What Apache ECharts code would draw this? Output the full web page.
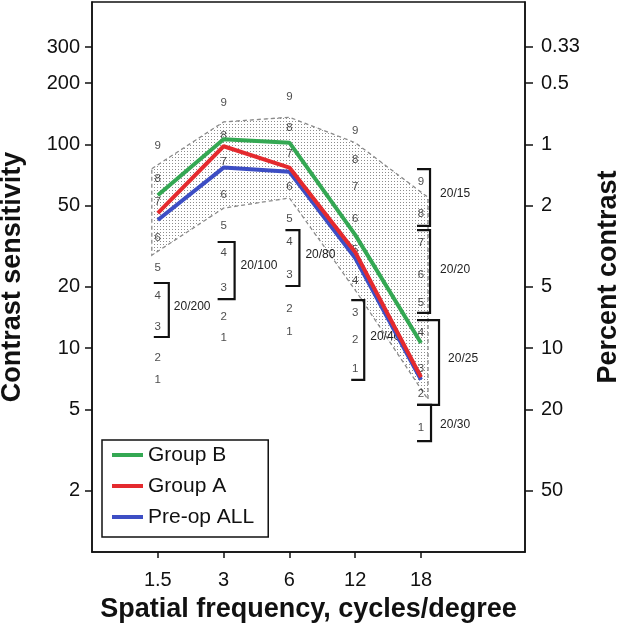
<!DOCTYPE html>
<html><head><meta charset="utf-8">
<script src="https://cdn.jsdelivr.net/npm/echarts@6/dist/echarts.min.js"></script>
<style>html,body{margin:0;padding:0;background:#fff}#c{width:617px;height:626px}</style>
</head><body><div id="c"></div>
<script>
// ---------- data ----------
const freqLabels = ['1.5', '3', '6', '12', '18'];
const groupB   = [56.3, 106, 102, 36, 10.6];
const groupA   = [46, 98, 77, 29.6, 7.2];
const preopAll = [42.6, 77, 73.5, 27.7, 7.0];
const normUpper = [76, 129, 136, 102, 55];
const normLower = [28.6, 48.7, 54.6, 19.3, 5.6];
const levels1_5 = [7.0, 9.0, 12.7, 18.0, 24.7, 35, 52, 68, 98];
const levels3   = [11.2, 14.2, 19.7, 29.3, 40, 56.5, 82, 110, 160];
const levels6   = [12.1, 15.6, 22.9, 33.2, 43, 61.7, 90, 120, 171];
const levels12  = [7.9, 11.0, 15, 21.4, 30.3, 43, 61.7, 84, 116];
const levels18  = [4.06, 5.96, 7.9, 11.9, 16.7, 22.9, 32.8, 45.5, 65.4];
const leftTicks = [2, 5, 10, 20, 50, 100, 200, 300];
const rightTicks = [0.33, 0.5, 1, 2, 5, 10, 20, 50];
const bracketLabels = ['20/200', '20/100', '20/80', '20/40', '20/15', '20/20', '20/25', '20/30'];
const bracketFreq   = [1, 2, 3, 4, 5, 5, 5, 5];
const bracketTop    = [20.9, 33.2, 38, 17.2, 75.7, 38, 13.75, 5.27];
const bracketBottom = [11.35, 17.4, 20.2, 7.0, 39.8, 14.9, 5.27, 3.5];

// ---------- styles ----------
const FONT = 'Liberation Sans, Arial, sans-serif';
const Y_MIN = 1, Y_MAX = 500, X_MAX = 6.58;
const BR_VX  = [11, 11, 10, 9, 9, 9, 18, 10];
const BR_ARM = [-4, -6, -4, -4, -4, -4, -4, -4];
const BR_GAP = [5, 6, 6, 6, 10, 10, 9, 9];
const BR_DY  = [-3, -5, -3, -3, -4, -2, -4, 2];
const BAND_PAD = [-6, 0, 0, 0, 7];   // px

const L = Math.log10;
const allLevels = [levels1_5, levels3, levels6, levels12, levels18];

function dots() {
  const c = document.createElement('canvas');
  c.width = 3; c.height = 3;
  const g = c.getContext('2d');
  g.fillStyle = '#8c8c8c';
  g.fillRect(1, 1, 1, 1);
  return c;
}
const DOTS = dots();

const digitData = [];
allLevels.forEach((lv, i) => lv.forEach((v, j) => digitData.push([i + 1, L(v), j + 1])));

const lineSeries = (name, arr, color, z) => ({
  name, type: 'line', data: arr.map((v, i) => [i + 1, L(v)]),
  symbol: 'none', lineStyle: { color, width: 4 }, itemStyle: { color }, z, silent: true
});

const chart = echarts.init(document.getElementById('c'), null, { renderer: 'canvas' });
chart.setOption({
  animation: false,
  backgroundColor: '#fff',
  grid: { left: 92, right: 92, top: 2, bottom: 74, show: true, borderColor: '#111', borderWidth: 1.5, outerBoundsMode: 'none', containLabel: false },
  legend: {
    data: ['Group B', 'Group A', 'Pre-op ALL'], orient: 'vertical', left: 102, top: 440,
    icon: 'rect', itemWidth: 31, itemHeight: 4, itemGap: 9, itemTextGap: 9,
    padding: [4, 14, 9, 10], borderColor: '#111', borderWidth: 1.5, backgroundColor: '#fff',
    textStyle: { fontSize: 21, color: '#111', fontFamily: FONT, lineHeight: 22 }
  },
  xAxis: {
    type: 'value', min: 0, max: X_MAX,
    axisLine: { show: true, onZero: false, lineStyle: { color: '#111', width: 1.5 } },
    axisTick: { show: true, customValues: [1, 2, 3, 4, 5], length: 6, lineStyle: { color: '#111', width: 1.5 } },
    axisLabel: { customValues: [1, 2, 3, 4, 5], formatter: v => freqLabels[Math.round(v) - 1], fontSize: 20, color: '#111', margin: 18, fontFamily: FONT },
    splitLine: { show: false },
    name: 'Spatial frequency, cycles/degree', nameLocation: 'middle', nameGap: 44,
    nameTextStyle: { fontSize: 27, fontWeight: 'bold', color: '#111', fontFamily: FONT }
  },
  yAxis: [{
    type: 'value', min: L(Y_MIN), max: L(Y_MAX), position: 'left',
    axisLine: { show: true, lineStyle: { color: '#111', width: 1.5 } },
    axisTick: { show: true, customValues: leftTicks.map(L), length: 7, lineStyle: { color: '#111', width: 1.5 } },
    axisLabel: { customValues: leftTicks.map(L), formatter: v => String(Math.round(Math.pow(10, v))), fontSize: 20, color: '#111', margin: 12, fontFamily: FONT },
    splitLine: { show: false },
    name: 'Contrast sensitivity', nameLocation: 'middle', nameRotate: 90, nameGap: 66,
    nameTextStyle: { fontSize: 27, fontWeight: 'bold', color: '#111', fontFamily: FONT }
  }, {
    type: 'value', min: L(Y_MIN), max: L(Y_MAX), position: 'right',
    axisLine: { show: true, lineStyle: { color: '#111', width: 1.5 } },
    axisTick: { show: true, customValues: rightTicks.map(p => L(100 / p)), length: 8, lineStyle: { color: '#111', width: 1.5 } },
    axisLabel: { customValues: rightTicks.map(p => L(100 / p)), formatter: v => String(parseFloat((100 / Math.pow(10, v)).toFixed(2))), fontSize: 20, color: '#111', margin: 16, fontFamily: FONT },
    splitLine: { show: false },
    name: 'Percent contrast', nameLocation: 'middle', nameRotate: 90, nameGap: 70,
    nameTextStyle: { fontSize: 27, fontWeight: 'bold', color: '#111', fontFamily: FONT }
  }],
  series: [
    {
      type: 'custom', coordinateSystem: 'cartesian2d', silent: true, z: 1,
      data: [0],
      renderItem: (params, api) => {
        const up = normUpper.map((v, i) => { const p = api.coord([i + 1, L(v)]); return [p[0] + BAND_PAD[i], p[1]]; });
        const lo = normLower.map((v, i) => { const p = api.coord([i + 1, L(v)]); return [p[0] + BAND_PAD[i], p[1]]; });
        const pts = up.concat(lo.slice().reverse());
        return { type: 'group', children: [
          { type: 'polygon', shape: { points: pts }, style: { fill: { image: DOTS, repeat: 'repeat' }, stroke: 'none' } },
          { type: 'polygon', shape: { points: pts }, style: { fill: 'none', stroke: '#8a8a8a', lineWidth: 1.3, lineDash: [4, 3] } }
        ] };
      }
    },
    { type: 'scatter', data: digitData, symbolSize: 0, silent: true, z: 3,
      label: { show: true, position: 'inside', formatter: p => String(p.value[2]), fontSize: 11.5, color: '#1a1a1a', fontFamily: FONT } },
    {
      type: 'custom', coordinateSystem: 'cartesian2d', silent: true, z: 4,
      data: bracketLabels.map((l, i) => [bracketFreq[i], L(bracketTop[i]), L(bracketBottom[i])]),
      encode: { x: 0, y: [1, 2] },
      renderItem: (params, api) => {
        const i = params.dataIndex;
        const t = api.coord([api.value(0), api.value(1)]);
        const b = api.coord([api.value(0), api.value(2)]);
        const vx = t[0] + BR_VX[i], ax = t[0] + BR_ARM[i];
        return { type: 'group', children: [
          { type: 'polyline', shape: { points: [[ax, t[1]], [vx, t[1]], [vx, b[1]], [ax, b[1]]] }, style: { stroke: '#111', lineWidth: 2.2, fill: 'none' } },
          { type: 'text', x: vx + BR_GAP[i], y: (t[1] + b[1]) / 2 + BR_DY[i], style: { text: bracketLabels[i], fontSize: 12, fill: '#222', align: 'left', verticalAlign: 'middle', fontFamily: FONT } }
        ] };
      }
    },
    lineSeries('Pre-op ALL', preopAll, '#3d4ec4', 5),
    lineSeries('Group A', groupA, '#e42a2e', 6),
    lineSeries('Group B', groupB, '#34a853', 7)
  ]
});
</script></body></html>
